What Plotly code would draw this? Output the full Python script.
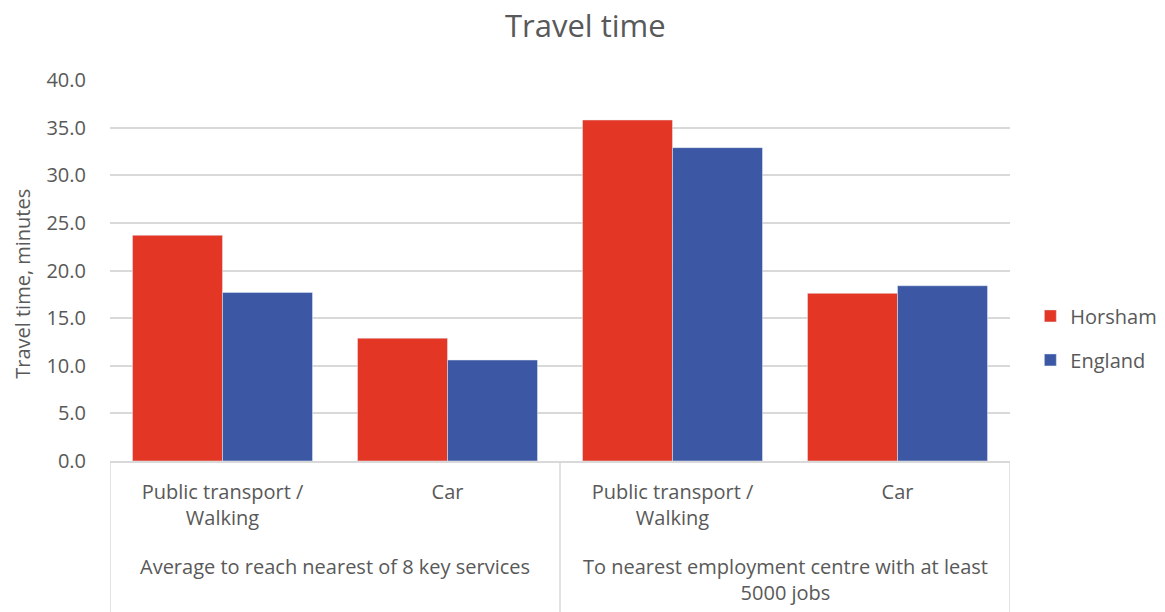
import plotly.graph_objects as go

categories = ["Public transport /<br>Walking", "Car", "Public transport /<br>Walking", "Car"]
groups = ["Average to reach nearest of 8 key services",
          "To nearest employment centre with at least<br>5000 jobs"]
horsham = [23.7, 12.9, 35.8, 17.6]
england = [17.7, 10.6, 32.9, 18.4]
y_ticks = [0, 5, 10, 15, 20, 25, 30, 35, 40]

RED = "#E33624"
BLUE = "#3C57A3"
GREY = "#595959"
GRID = "#D9D9D9"
FONT = "Open Sans"
FS = 20

xpos = list(range(len(categories)))

fig = go.Figure()
fig.add_trace(go.Bar(x=xpos, y=horsham, name="Horsham", marker_color=RED,
                     legendgroup="a"))
fig.add_trace(go.Bar(x=xpos, y=england, name="England", marker_color=BLUE,
                     legendgroup="b"))

# divider lines under the axis (group separators)
for xv in [-0.5, 1.5, 3.5]:
    fig.add_shape(type="line", xref="x", yref="paper", x0=xv, x1=xv,
                  y0=0, y1=-0.42, line=dict(color=GRID, width=1.5))

# group labels
group_centers = [0.5, 2.5]
for gx, gl in zip(group_centers, groups):
    fig.add_annotation(x=gx, xref="x", y=-0.237, yref="paper", yanchor="top",
                       text=gl, showarrow=False,
                       font=dict(family=FONT, size=FS, color=GREY), align="center")

# y axis title
fig.add_annotation(x=-0.0967, xref="paper", y=0.465, yref="paper",
                   xanchor="center", yanchor="middle", textangle=-90,
                   text="Travel time, minutes", showarrow=False,
                   font=dict(family=FONT, size=FS, color=GREY))

fig.update_layout(
    width=1157, height=604,
    margin=dict(l=102, r=155, t=72, b=151, autoexpand=False),
    paper_bgcolor="white", plot_bgcolor="white",
    barmode="group", bargap=0.2, bargroupgap=0,
    title=dict(text="Travel time", x=0.499, xanchor="center", y=0.970, yanchor="middle",
               font=dict(family=FONT, size=31, color=GREY)),
    font=dict(family=FONT, size=FS, color=GREY),
    legend=dict(x=1.0226, xanchor="left", y=0.323, yanchor="middle",
                traceorder="grouped", tracegroupgap=15,
                font=dict(family=FONT, size=FS, color=GREY)),
    xaxis=dict(tickmode="array", tickvals=xpos, ticktext=categories,
               range=[-0.5, 3.5], showgrid=False, showline=True,
               linecolor=GRID, linewidth=1.5, ticks="", ticklabelstandoff=12,
               tickfont=dict(family=FONT, size=FS, color=GREY), zeroline=False),
    yaxis=dict(range=[0, 40], tickvals=y_ticks, tickformat=".1f",
               showgrid=True, gridcolor=GRID, gridwidth=1.5, zeroline=False,
               tickfont=dict(family=FONT, size=FS, color=GREY), ticklabelstandoff=23),
)

fig.write_html("out.html")
